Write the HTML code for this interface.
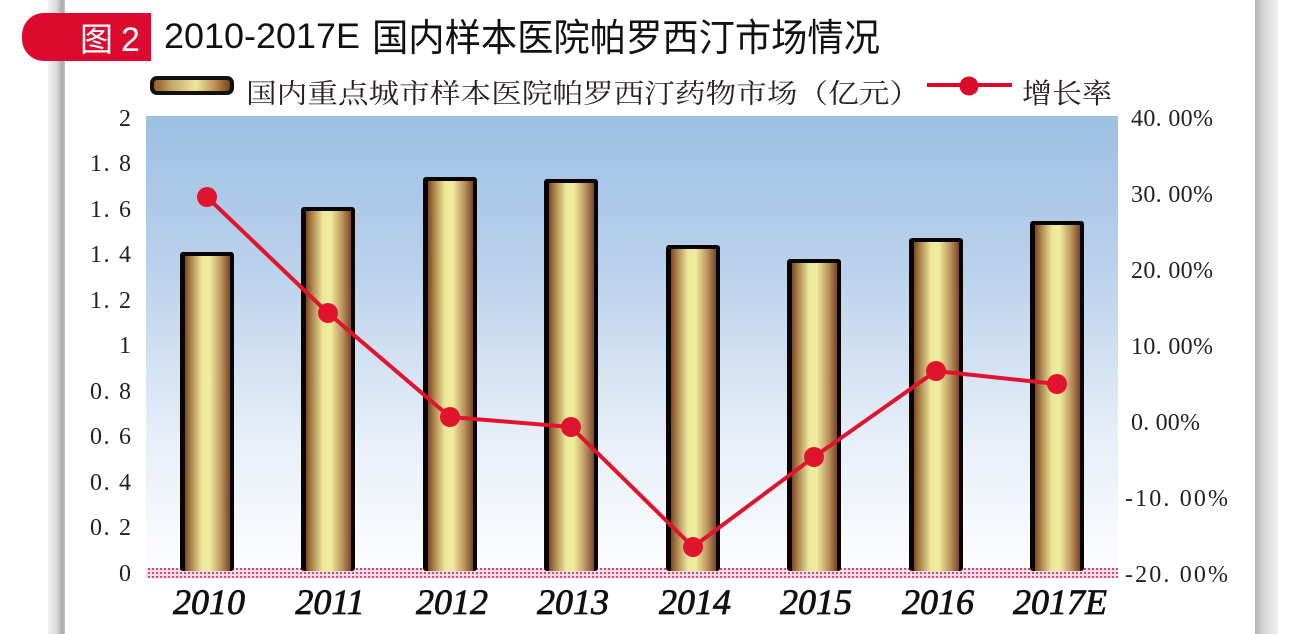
<!DOCTYPE html>
<html>
<head>
<meta charset="utf-8">
<style>
html,body{margin:0;padding:0;background:#fff;}
svg{display:block;}
</style>
</head>
<body>
<svg width="1294" height="634" viewBox="0 0 1294 634" xmlns="http://www.w3.org/2000/svg">
<defs>
  <linearGradient id="lstrip" x1="0" y1="0" x2="1" y2="0">
    <stop offset="0" stop-color="#f2f2f2"/>
    <stop offset="0.5" stop-color="#dadada"/>
    <stop offset="0.85" stop-color="#aaaaaa"/>
    <stop offset="1" stop-color="#c4c4c4"/>
  </linearGradient>
  <linearGradient id="rstrip" x1="0" y1="0" x2="1" y2="0">
    <stop offset="0" stop-color="#b4b4b4"/>
    <stop offset="0.35" stop-color="#d4d4d4"/>
    <stop offset="1" stop-color="#f0f0f0"/>
  </linearGradient>
  <linearGradient id="bg" x1="0" y1="0" x2="0" y2="1">
    <stop offset="0" stop-color="#9dbfe3"/>
    <stop offset="0.35" stop-color="#bcd2ec"/>
    <stop offset="0.7" stop-color="#e6eef8"/>
    <stop offset="1" stop-color="#fdfdff"/>
  </linearGradient>
  <linearGradient id="bar" x1="0" y1="0" x2="1" y2="0">
    <stop offset="0" stop-color="#7c4a22"/>
    <stop offset="0.15" stop-color="#b08a52"/>
    <stop offset="0.38" stop-color="#ecea9a"/>
    <stop offset="0.55" stop-color="#efec9c"/>
    <stop offset="0.8" stop-color="#bd9560"/>
    <stop offset="1" stop-color="#7a4826"/>
  </linearGradient>
  <linearGradient id="sw" x1="0" y1="0" x2="1" y2="0">
    <stop offset="0" stop-color="#8a5228"/>
    <stop offset="0.25" stop-color="#c8a868"/>
    <stop offset="0.55" stop-color="#ece89c"/>
    <stop offset="0.8" stop-color="#b88a50"/>
    <stop offset="1" stop-color="#6a3a1c"/>
  </linearGradient>
  <pattern id="dots" x="0" y="0" width="4" height="4" patternUnits="userSpaceOnUse">
    <rect width="4" height="4" fill="#f6dde5"/>
    <rect width="2" height="2" fill="#d04a74"/>
  </pattern>
</defs>

<!-- page side strips -->
<rect x="48" y="0" width="17" height="634" fill="url(#lstrip)"/>
<rect x="1255" y="0" width="23" height="634" fill="url(#rstrip)"/>

<!-- title tab -->
<path d="M151,13 H44 A22,22 0 0 0 22,35 V39 A22,22 0 0 0 44,61 H151 Z" fill="#dc0a2e"/>
<text x="80" y="51" font-family="'Noto Sans CJK SC', sans-serif" font-size="33" fill="#fff">图</text>
<text x="121" y="51" font-family="'Liberation Sans', sans-serif" font-size="34" fill="#fff">2</text>

<!-- title -->
<text x="164" y="48" font-family="'Liberation Sans', sans-serif" font-size="35" fill="#111" textLength="196" lengthAdjust="spacingAndGlyphs">2010-2017E</text>
<text x="372" y="51" font-family="'Noto Sans CJK SC', sans-serif" font-size="38" fill="#111" textLength="508" lengthAdjust="spacingAndGlyphs">国内样本医院帕罗西汀市场情况</text>

<!-- legend -->
<rect x="152" y="78" width="80" height="15" rx="5" fill="url(#sw)" stroke="#111" stroke-width="4"/>
<text x="246" y="103" font-family="'Noto Serif CJK SC', serif" font-size="27" fill="#2a2020" textLength="674" lengthAdjust="spacingAndGlyphs">国内重点城市样本医院帕罗西汀药物市场（亿元）</text>
<line x1="927" y1="85" x2="1012" y2="85" stroke="#dc0a2a" stroke-width="4"/>
<circle cx="969" cy="86" r="9.5" fill="#dc0a2a"/>
<text x="1022" y="103" font-family="'Noto Serif CJK SC', serif" font-size="28" fill="#2a2020" textLength="90" lengthAdjust="spacingAndGlyphs">增长率</text>

<!-- plot background -->
<rect x="146" y="116" width="972" height="455" fill="url(#bg)"/>

<!-- baseline -->
<rect x="146" y="568" width="972" height="10" fill="url(#dots)"/>

<!-- left axis labels -->
<g font-family="'Liberation Serif', serif" font-size="24" fill="#222" text-anchor="end">
  <text x="131" y="126">2</text>
  <text x="131" y="171" textLength="41" lengthAdjust="spacing">1. 8</text>
  <text x="131" y="217" textLength="41" lengthAdjust="spacing">1. 6</text>
  <text x="131" y="262" textLength="41" lengthAdjust="spacing">1. 4</text>
  <text x="131" y="308" textLength="41" lengthAdjust="spacing">1. 2</text>
  <text x="131" y="353">1</text>
  <text x="131" y="399" textLength="41" lengthAdjust="spacing">0. 8</text>
  <text x="131" y="444" textLength="41" lengthAdjust="spacing">0. 6</text>
  <text x="131" y="490" textLength="41" lengthAdjust="spacing">0. 4</text>
  <text x="131" y="535" textLength="41" lengthAdjust="spacing">0. 2</text>
  <text x="131" y="581">0</text>
</g>

<!-- right axis labels -->
<g font-family="'Liberation Serif', serif" font-size="24" fill="#222">
  <text x="1131" y="126" textLength="82" lengthAdjust="spacing">40. 00%</text>
  <text x="1131" y="202" textLength="82" lengthAdjust="spacing">30. 00%</text>
  <text x="1131" y="278" textLength="82" lengthAdjust="spacing">20. 00%</text>
  <text x="1131" y="354" textLength="82" lengthAdjust="spacing">10. 00%</text>
  <text x="1131" y="430" textLength="69" lengthAdjust="spacing">0. 00%</text>
  <text x="1125" y="506" textLength="103" lengthAdjust="spacing">-10. 00%</text>
  <text x="1125" y="582" textLength="103" lengthAdjust="spacing">-20. 00%</text>
</g>

<!-- bars -->
<g>
  <rect x="180" y="252" width="54" height="319" rx="3" fill="#0a0505"/>
  <rect x="185" y="256" width="45" height="315" fill="url(#bar)"/>

  <rect x="301" y="207" width="54" height="364" rx="3" fill="#0a0505"/>
  <rect x="306" y="211" width="45" height="360" fill="url(#bar)"/>

  <rect x="423" y="177" width="54" height="394" rx="3" fill="#0a0505"/>
  <rect x="428" y="181" width="45" height="390" fill="url(#bar)"/>

  <rect x="544" y="179" width="54" height="392" rx="3" fill="#0a0505"/>
  <rect x="549" y="183" width="45" height="388" fill="url(#bar)"/>

  <rect x="666" y="245" width="54" height="326" rx="3" fill="#0a0505"/>
  <rect x="671" y="249" width="45" height="322" fill="url(#bar)"/>

  <rect x="787" y="259" width="54" height="312" rx="3" fill="#0a0505"/>
  <rect x="792" y="263" width="45" height="308" fill="url(#bar)"/>

  <rect x="909" y="238" width="54" height="333" rx="3" fill="#0a0505"/>
  <rect x="914" y="242" width="45" height="329" fill="url(#bar)"/>

  <rect x="1030" y="221" width="54" height="350" rx="3" fill="#0a0505"/>
  <rect x="1035" y="225" width="45" height="346" fill="url(#bar)"/>
</g>

<!-- growth line -->
<polyline points="207,197 328,313 450,417 571,427 693,547 814,457 936,371 1057,384" fill="none" stroke="#e0142c" stroke-width="4" stroke-linejoin="round"/>
<g fill="#e0142c">
  <circle cx="207" cy="197" r="10"/>
  <circle cx="328" cy="313" r="10"/>
  <circle cx="450" cy="417" r="10"/>
  <circle cx="571" cy="427" r="10"/>
  <circle cx="693" cy="547" r="10"/>
  <circle cx="814" cy="457" r="10"/>
  <circle cx="936" cy="371" r="10"/>
  <circle cx="1057" cy="384" r="10"/>
</g>

<!-- x labels -->
<g font-family="'Liberation Serif', serif" font-size="36" font-style="italic" fill="#111" stroke="#111" stroke-width="0.8" text-anchor="middle">
  <text x="209" y="614">2010</text>
  <text x="330" y="614">2011</text>
  <text x="452" y="614">2012</text>
  <text x="573" y="614">2013</text>
  <text x="695" y="614">2014</text>
  <text x="816" y="614">2015</text>
  <text x="938" y="614">2016</text>
  <text x="1060" y="614">2017E</text>
</g>
</svg>
</body>
</html>
